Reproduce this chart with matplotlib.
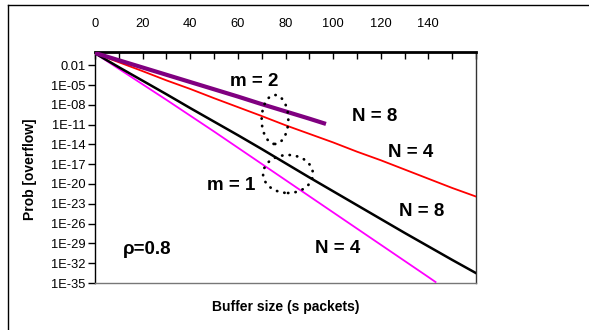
import numpy as np
import matplotlib
matplotlib.use("Agg")
import matplotlib.pyplot as plt
from matplotlib.patches import Ellipse
from matplotlib.lines import Line2D

plt.rcParams['font.family'] = ['Liberation Sans', 'DejaVu Sans']

# buffer sizes (s packets) and log10 of overflow probability
x_m2_n8 = [0, 10, 20, 30, 40, 50, 60, 70, 80, 90, 97]
logp_m2_n8 = [-0.15, -1.25, -2.35, -3.45, -4.55, -5.65, -6.75, -7.9, -9.0, -10.1, -10.9]

x_m2_n4 = [0, 10, 20, 30, 40, 50, 60, 70, 80, 90, 100, 110, 120, 130, 140, 150, 160]
logp_m2_n4 = [-0.2, -1.55, -2.9, -4.3, -5.6, -7.0, -8.35, -9.7, -11.1, -12.4, -13.7,
              -15.1, -16.4, -17.8, -19.2, -20.6, -21.9]

x_m1_n8 = [0, 10, 20, 30, 40, 50, 60, 70, 80, 90, 100, 110, 120, 130, 140, 150, 160]
logp_m1_n8 = [-0.2, -2.3, -4.35, -6.4, -8.5, -10.55, -12.6, -14.7, -16.85, -19.0, -21.1,
              -23.2, -25.3, -27.4, -29.45, -31.5, -33.5]

x_m1_n4 = [0, 10, 20, 30, 40, 50, 60, 70, 80, 90, 100, 110, 120, 130, 140, 143]
logp_m1_n4 = [-0.2, -2.55, -4.9, -7.25, -9.65, -12.05, -14.5, -16.95, -19.4, -21.85,
              -24.3, -26.75, -29.2, -31.65, -34.1, -34.85]

xtick_labels = ['0', '20', '40', '60', '80', '100', '120', '140']
ytick_labels = ['1E-35', '1E-32', '1E-29', '1E-26', '1E-23', '1E-20', '1E-17',
                '1E-14', '1E-11', '1E-08', '1E-05', '0.01']

fig = plt.figure(figsize=(5.89, 3.30), dpi=100)
W, H = 589, 330
ax = fig.add_axes([95 / W, 1 - 283 / H, (476 - 95) / W, (283 - 52) / H])

def pw(v):
    return [10.0 ** t for t in v]

ax.plot(x_m2_n4, pw(logp_m2_n4), color='#ff0000', lw=1.3, zorder=3)
ax.plot(x_m1_n4, pw(logp_m1_n4), color='#ff00ff', lw=1.3, zorder=3)
ax.plot(x_m1_n8, pw(logp_m1_n8), color='#000000', lw=1.8, zorder=4)
ax.plot(x_m2_n8, pw(logp_m2_n8), color='#800080', lw=3.0, solid_capstyle='butt', zorder=5)

ax.set_yscale('log')
ax.set_xlim(0, 160)
ax.set_ylim(1e-35, 1)

ax.xaxis.tick_top()
ax.set_xticks(np.arange(0, 141, 20))
ax.set_xticklabels(xtick_labels)
ax.set_xticks(np.arange(0, 161, 10), minor=True)
ax.tick_params(axis='x', which='major', direction='in', length=5, width=1,
               pad=16, labelsize=9.3, top=True, bottom=False)
ax.tick_params(axis='x', which='minor', direction='in', length=5, width=1,
               top=True, bottom=False)

yt = [10.0 ** e for e in range(-35, -1, 3)]
ax.set_yticks(yt)
ax.set_yticklabels(ytick_labels)
ax.yaxis.set_minor_locator(matplotlib.ticker.NullLocator())
ax.tick_params(axis='y', which='major', direction='out', length=5, width=1,
               pad=2, labelsize=9.3, left=True, right=False)

ax.spines['top'].set_linewidth(2.0)
ax.spines['left'].set_linewidth(1.0)
ax.spines['right'].set_linewidth(1.0)
ax.spines['right'].set_color('#333333')
ax.spines['bottom'].set_linewidth(1.0)
ax.spines['bottom'].set_color('#777777')

fig.text(30 / W, 1 - 169 / H, 'Prob [overflow]', fontsize=10, fontweight='bold',
         rotation=90, ha='center', va='center')
fig.text(285.5 / W, 1 - 307 / H, 'Buffer size (s packets)', fontsize=10,
         fontweight='bold', ha='center', va='center')

txt = dict(fontsize=13.5, fontweight='bold', ha='center', va='center')
ax.text(67.0, 10 ** -4.5, 'm = 2', **txt)
ax.text(117.3, 10 ** -9.8, 'N = 8', **txt)
ax.text(132.4, 10 ** -15.2, 'N = 4', **txt)
ax.text(57.0, 10 ** -20.2, 'm = 1', **txt)
ax.text(137.4, 10 ** -24.2, 'N = 8', **txt)
ax.text(101.8, 10 ** -29.7, 'N = 4', **txt)
ax.text(21.8, 10 ** -30.0, 'ρ=0.8', **txt)

dot = dict(fill=False, edgecolor='black', lw=2.0, linestyle=(0, (0.1, 2.6)),
           transform=ax.transAxes, zorder=6)
e1 = Ellipse((0.4724, 0.7078), 0.070, 0.212, angle=0, **dot)
e2 = Ellipse((0.5066, 0.4719), 0.131, 0.1645, angle=0, **dot)
for e in (e1, e2):
    e.set_capstyle('round')
    ax.add_patch(e)

# outer frame (left and top visible)
fig.add_artist(Line2D([7.5 / W, 7.5 / W], [0, 1 - 5 / H], color='black', lw=1.0,
                      transform=fig.transFigure))
fig.add_artist(Line2D([7.5 / W, 1], [1 - 5 / H, 1 - 5 / H], color='black', lw=1.0,
                      transform=fig.transFigure))

fig.savefig('out.png', dpi=100)
